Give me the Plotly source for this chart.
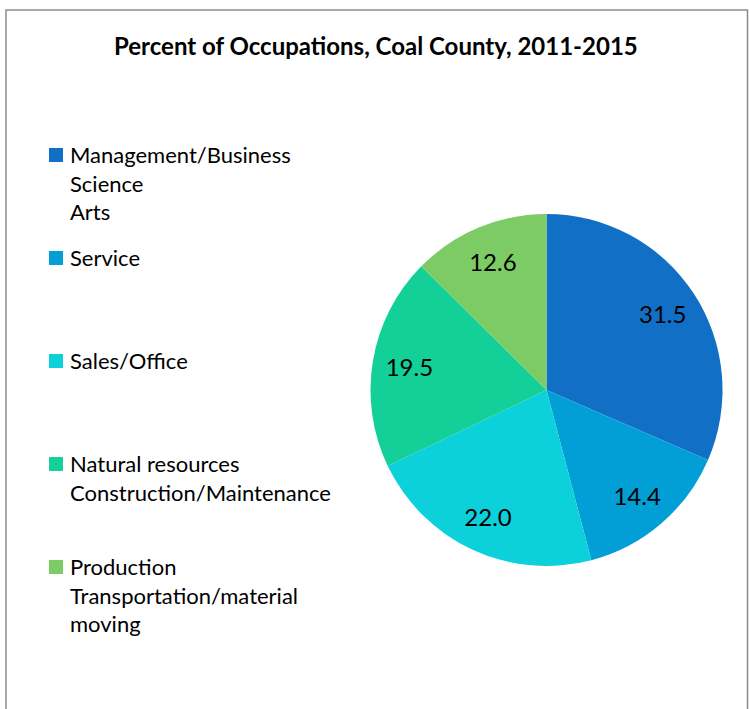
import plotly.graph_objects as go

W, H = 749, 709

title = "Percent of Occupations, Coal County, 2011-2015"
categories = [
    ["Management/Business", "Science", "Arts"],
    ["Service"],
    ["Sales/Office"],
    ["Natural resources", "Construction/Maintenance"],
    ["Production", "Transportation/material", "moving"],
]
values = [31.5, 14.4, 22.0, 19.5, 12.6]
colors = ["#1170C6", "#029FD7", "#0CD0DA", "#12D098", "#7DCB65"]

FONT = "Lato"

labels = [" ".join(c) for c in categories]

# pie geometry (pixels)
cx, cy, r = 546.5, 390, 176

def px_x(x):
    return x / W

def px_y(y):
    return 1 - y / H

domain = dict(x=[px_x(cx - r), px_x(cx + r)], y=[px_y(cy + r), px_y(cy - r)])

fig = go.Figure()
# slices
fig.add_trace(go.Pie(
    labels=labels,
    values=values,
    marker=dict(colors=colors, line=dict(width=0)),
    sort=False,
    direction="clockwise",
    rotation=0,
    textinfo="none",
    domain=domain,
    showlegend=False,
    hoverinfo="label+value",
))
# data labels placed on an invisible ring so they sit near the outer edge
fig.add_trace(go.Pie(
    labels=labels,
    values=values,
    hole=0.58,
    marker=dict(colors=["rgba(0,0,0,0)"] * len(values), line=dict(width=0)),
    sort=False,
    direction="clockwise",
    rotation=0,
    textinfo="value",
    texttemplate="%{value:.1f}",
    textposition="inside",
    insidetextorientation="horizontal",
    textfont=dict(family=FONT, size=24, color="#000000"),
    domain=domain,
    showlegend=False,
    hoverinfo="skip",
))

shapes = []
annotations = []

# title
annotations.append(dict(
    text="<b>" + title + "</b>", x=px_x(376), y=px_y(45), xref="paper", yref="paper",
    xanchor="center", yanchor="middle", showarrow=False,
    font=dict(family=FONT, size=24, color="#000000"),
))

# manual legend
entry_tops = [155, 258, 361, 464, 567]
for cat, col, yc in zip(categories, colors, entry_tops):
    shapes.append(dict(type="rect", xref="paper", yref="paper",
                       x0=px_x(49), x1=px_x(63), y0=px_y(yc + 7), y1=px_y(yc - 7),
                       fillcolor=col, line=dict(width=0)))
    annotations.append(dict(
        text="<br>".join(cat), x=px_x(68.5), y=px_y(yc - 15), xref="paper", yref="paper",
        xanchor="left", yanchor="top", align="left", showarrow=False, borderpad=0,
        font=dict(family=FONT, size=22, color="#000000"),
    ))

# chart border
shapes.append(dict(type="rect", xref="paper", yref="paper",
                   x0=px_x(6), x1=px_x(747.5), y0=px_y(720), y1=px_y(10),
                   fillcolor="rgba(0,0,0,0)", line=dict(color="#8C8C8C", width=1.5)))

fig.update_layout(
    width=W, height=H,
    margin=dict(l=0, r=0, t=0, b=0),
    paper_bgcolor="#FFFFFF",
    plot_bgcolor="#FFFFFF",
    shapes=shapes,
    annotations=annotations,
    showlegend=False,
)

fig.write_html("out.html", config={"displayModeBar": False},
               post_script="document.body.style.margin='0';document.body.style.overflow='hidden';")
